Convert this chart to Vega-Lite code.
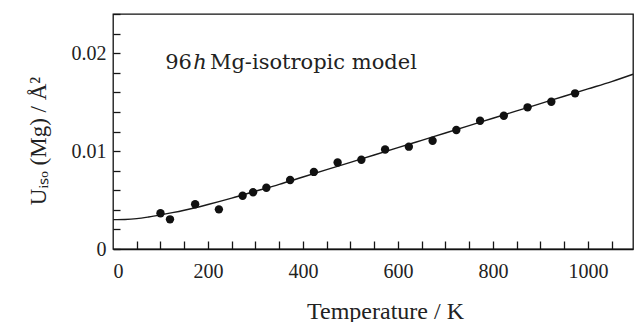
{
  "$schema": "https://vega.github.io/schema/vega-lite/v6.json",
  "width": 520,
  "height": 235,
  "autosize": {"type": "none"},
  "padding": {"left": 113, "top": 14, "right": 1, "bottom": 73},
  "background": "white",
  "config": {
    "view": {"stroke": "#111", "strokeWidth": 1.3},
    "axis": {"domainColor": "#111", "domainWidth": 1.3, "tickColor": "#111", "tickWidth": 1.3, "labelFont": "Liberation Serif", "labelFontSize": 20, "labelColor": "#222", "titleFont": "Liberation Serif", "titleFontWeight": "normal", "titleColor": "#222", "grid": false}
  },
  "datasets": {
    "curve": [
      {"T": 0, "U": 0.00300}, {"T": 25, "U": 0.00302}, {"T": 50, "U": 0.00310}, {"T": 75, "U": 0.00327},
      {"T": 100, "U": 0.00348}, {"T": 125, "U": 0.00371},
      {"T": 150, "U": 0.00396}, {"T": 200, "U": 0.00455}, {"T": 250, "U": 0.00520},
      {"T": 300, "U": 0.00590}, {"T": 350, "U": 0.00660}, {"T": 400, "U": 0.00735},
      {"T": 450, "U": 0.00810}, {"T": 500, "U": 0.00885}, {"T": 550, "U": 0.00960},
      {"T": 600, "U": 0.01035}, {"T": 650, "U": 0.01110}, {"T": 700, "U": 0.01185},
      {"T": 750, "U": 0.01260}, {"T": 800, "U": 0.01335}, {"T": 850, "U": 0.01410},
      {"T": 900, "U": 0.01485}, {"T": 950, "U": 0.01560}, {"T": 1000, "U": 0.01635},
      {"T": 1050, "U": 0.01710}, {"T": 1095, "U": 0.01785}
    ],
    "obs": [
      {"T": 100, "U": 0.00365}, {"T": 120, "U": 0.00303}, {"T": 173, "U": 0.00457},
      {"T": 223, "U": 0.00405}, {"T": 273, "U": 0.00544}, {"T": 295, "U": 0.00579},
      {"T": 323, "U": 0.00626}, {"T": 373, "U": 0.00705}, {"T": 423, "U": 0.00787},
      {"T": 473, "U": 0.00883}, {"T": 523, "U": 0.00911}, {"T": 573, "U": 0.01016},
      {"T": 623, "U": 0.01045}, {"T": 673, "U": 0.01106}, {"T": 723, "U": 0.01215},
      {"T": 773, "U": 0.01310}, {"T": 823, "U": 0.01361}, {"T": 873, "U": 0.01447},
      {"T": 923, "U": 0.01504}, {"T": 973, "U": 0.01590}
    ],
    "label96": [{"T": 110, "U": 0.01835, "txt": "96"}],
    "labelh": [{"T": 169, "U": 0.01835, "txt": "h"}],
    "labelrest": [{"T": 204, "U": 0.01835, "txt": "Mg-isotropic model"}]
  },
  "resolve": {
    "scale": {"x": "shared", "y": "shared"},
    "axis": {"x": "independent", "y": "independent"}
  },
  "layer": [
    {
      "data": {"name": "curve"},
      "mark": {"type": "line", "color": "#1a1a1a", "strokeWidth": 1.4, "interpolate": "monotone"},
      "encoding": {
        "x": {"field": "T", "type": "quantitative", "scale": {"domain": [0, 1095], "nice": false, "zero": false},
          "axis": {"orient": "bottom", "values": [0, 200, 400, 600, 800, 1000], "format": "d", "ticks": true, "tickSize": 0, "tickColor": "black", "labelPadding": 12, "domain": false,
            "title": "Temperature / K", "titleFontSize": 24, "titleX": 272, "titleY": 69, "titleBaseline": "alphabetic", "titleAlign": "center"}},
        "y": {"field": "U", "type": "quantitative", "scale": {"domain": [0, 0.024], "nice": false, "zero": false},
          "axis": {"orient": "left", "values": [0, 0.01, 0.02], "format": ".2~f", "ticks": false, "labelPadding": 7, "domain": false,
            "title": "Uᵢₛₒ (Mg) / Å²", "titleFontSize": 23, "titleAngle": 270, "titleX": -68, "titleY": 126.5, "titleBaseline": "alphabetic", "titleAlign": "center"}}
      }
    },
    {
      "data": {"name": "obs"},
      "mark": {"type": "circle", "color": "#111", "opacity": 1, "size": 70},
      "encoding": {
        "x": {"field": "T", "type": "quantitative",
          "axis": {"orient": "top", "offset": -235, "values": [50, 100, 150, 200, 250, 300, 350, 400, 450, 500, 550, 600, 650, 700, 750, 800, 850, 900, 950, 1000, 1050],
            "labels": false, "domain": true, "domainColor": "#111", "title": null, "ticks": true, "tickSize": 8, "tickColor": "#151515"}},
        "y": {"field": "U", "type": "quantitative",
          "axis": {"orient": "right", "offset": -520, "tickCount": 12,
            "labels": true, "labelOpacity": 0, "domain": false, "title": null, "ticks": true, "tickSize": 7, "tickColor": "#151515"}}
      }
    },
    {
      "data": {"name": "label96"},
      "mark": {"type": "text", "font": "DejaVu Serif", "fontSize": 21, "align": "left", "baseline": "alphabetic", "color": "#222"},
      "encoding": {
        "x": {"field": "T", "type": "quantitative", "axis": null},
        "y": {"field": "U", "type": "quantitative", "axis": null},
        "text": {"field": "txt"}
      }
    },
    {
      "data": {"name": "labelh"},
      "mark": {"type": "text", "font": "DejaVu Serif", "fontSize": 21, "fontStyle": "italic", "align": "left", "baseline": "alphabetic", "color": "#222"},
      "encoding": {
        "x": {"field": "T", "type": "quantitative", "axis": null},
        "y": {"field": "U", "type": "quantitative", "axis": null},
        "text": {"field": "txt"}
      }
    },
    {
      "data": {"name": "labelrest"},
      "mark": {"type": "text", "font": "DejaVu Serif", "fontSize": 21, "align": "left", "baseline": "alphabetic", "color": "#222"},
      "encoding": {
        "x": {"field": "T", "type": "quantitative", "axis": null},
        "y": {"field": "U", "type": "quantitative", "axis": null},
        "text": {"field": "txt"}
      }
    }
  ]
}
